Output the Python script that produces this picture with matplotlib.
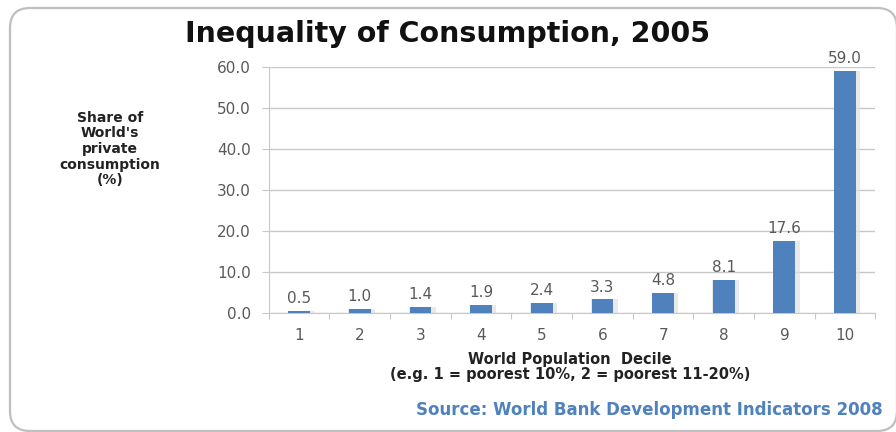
import matplotlib
matplotlib.use("Agg")
import matplotlib.pyplot as plt
from matplotlib.patches import FancyBboxPatch
import numpy as np

plt.rcParams['font.family'] = ['DejaVu Sans']

deciles = ["1", "2", "3", "4", "5", "6", "7", "8", "9", "10"]
share = [0.5, 1.0, 1.4, 1.9, 2.4, 3.3, 4.8, 8.1, 17.6, 59.0]
yticks = [0, 10, 20, 30, 40, 50, 60]

bar_color = "#4F81BD"
grid_color = "#c8c8c8"
text_gray = "#595959"

fig = plt.figure(figsize=(8.96, 4.32), dpi=100)

# rounded chart frame (in inches so the corners stay circular)
frame = FancyBboxPatch((0.10, 0.01), 8.87, 4.23, boxstyle="round,pad=0,rounding_size=0.2",
                       transform=fig.dpi_scale_trans, facecolor="none", edgecolor="#bfbfbf",
                       linewidth=1.6, zorder=-1)
fig.patches.append(frame)

ax = fig.add_axes([0.300, 0.2755, 0.677, 0.5695])
ax.set_facecolor("none")

x = np.arange(len(share))
# soft shadow behind each bar
ax.bar(x + 0.03, share, width=0.44, color="#e0e0e0", alpha=0.7, zorder=2)
bars = ax.bar(x, share, width=0.36, color=bar_color, zorder=3)
for xi, v in zip(x, share):
    ax.text(xi, v + 1.2, f"{v:.1f}", ha="center", va="bottom", fontsize=11, color=text_gray)

ax.set_xlim(-0.5, len(share) - 0.5)
ax.set_ylim(0, 60)
ax.set_yticks(yticks)
ax.set_yticklabels([f"{t:.1f}" for t in yticks], fontsize=11, color=text_gray)
ax.yaxis.grid(True, color=grid_color, linewidth=1)
ax.set_axisbelow(True)

# category labels at centers, tick marks at the boundaries
ax.set_xticks(np.arange(-0.5, len(share), 1.0))
ax.set_xticklabels([])
ax.set_xticks(x, minor=True)
ax.set_xticklabels(deciles, minor=True, fontsize=11, color=text_gray)
ax.tick_params(axis="x", which="minor", length=0, pad=11)
ax.tick_params(axis="x", which="major", length=4, color=grid_color, direction="out")
ax.tick_params(axis="y", length=5, color=grid_color, pad=8)

for s in ["top", "right"]:
    ax.spines[s].set_visible(False)
ax.spines["left"].set_color(grid_color)
ax.spines["bottom"].set_color(grid_color)

fig.text(0.5, 0.922, "Inequality of Consumption, 2005", ha="center", va="center",
         fontsize=20.5, fontweight="bold", color="#111111")
fig.text(0.123, 0.655, "Share of\nWorld's\nprivate\nconsumption\n(%)", ha="center", va="center",
         fontsize=10, fontweight="bold", color="#222222", linespacing=1.15)
fig.text(0.636, 0.168, "World Population  Decile", ha="center", va="center",
         fontsize=10.5, fontweight="bold", color="#222222")
fig.text(0.636, 0.134, "(e.g. 1 = poorest 10%, 2 = poorest 11-20%)", ha="center", va="center",
         fontsize=10.5, fontweight="bold", color="#222222")
fig.text(0.985, 0.051, "Source: World Bank Development Indicators 2008", ha="right", va="center",
         fontsize=12, fontweight="bold", color=bar_color)

fig.savefig("out.png", dpi=100)
